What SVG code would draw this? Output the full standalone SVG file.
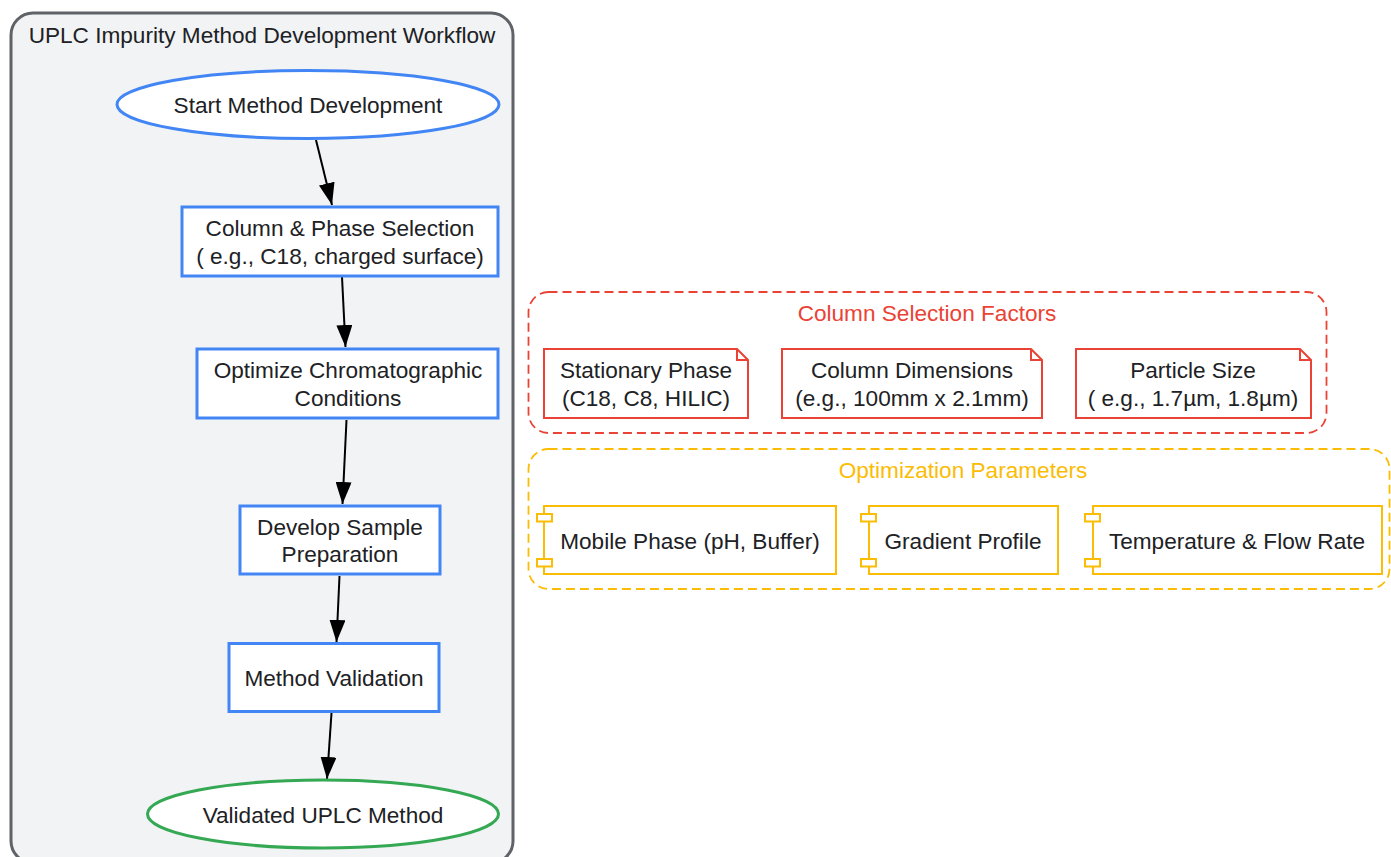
<svg xmlns="http://www.w3.org/2000/svg" width="1391" height="857" viewBox="0 0 1391 857">
<style>
  text { font-family: "Liberation Sans", Arial, sans-serif; font-size: 22.6px; fill: #202124; text-anchor: middle; dominant-baseline: central; }
  .step { fill: #ffffff; stroke: #4285f4; stroke-width: 3; }
  .note { fill: #ffffff; stroke: #ea4335; stroke-width: 2; }
  .comp { fill: #ffffff; stroke: #fbbc04; stroke-width: 2; }
  .cluster { fill: none; stroke-width: 1.8; stroke-dasharray: 9,5; }
  .edge { stroke: #000000; stroke-width: 2; fill: none; marker-end: url(#arrowh); }
</style>
<defs>
  <marker id="arrowh" markerUnits="userSpaceOnUse" markerWidth="24" markerHeight="16" refX="22" refY="8" orient="auto" viewBox="0 0 24 16">
    <path d="M0,0 L22,8 L0,16 Z" fill="#000"/>
  </marker>
</defs>

<g id="workflow-cluster">
  <rect x="11" y="13" width="502" height="850" rx="22" ry="22" fill="#f1f3f4" stroke="#5f6368" stroke-width="3"/>
  <text x="262" y="35">UPLC Impurity Method Development Workflow</text>
</g>

<g id="column-factors-cluster">
  <rect class="cluster" x="528.5" y="292" width="798" height="141" rx="20" ry="20" stroke="#ea4335"/>
  <text x="927" y="313" style="fill:#ea4335">Column Selection Factors</text>
</g>

<g id="optimization-cluster">
  <rect class="cluster" x="528.5" y="449" width="861" height="140" rx="20" ry="20" stroke="#fbbc04"/>
  <text x="963" y="470" style="fill:#fbbc04">Optimization Parameters</text>
</g>

<g id="connectors">
  <line class="edge" x1="316" y1="140" x2="332" y2="205"/>
  <line class="edge" x1="342" y1="277" x2="345.5" y2="347"/>
  <line class="edge" x1="346.5" y1="420" x2="342.5" y2="504"/>
  <line class="edge" x1="339.5" y1="576" x2="336.5" y2="642"/>
  <line class="edge" x1="331.5" y1="713" x2="327" y2="779"/>
</g>

<g id="start">
  <ellipse cx="308" cy="104.5" rx="191" ry="34" fill="#ffffff" stroke="#4285f4" stroke-width="3"/>
  <text x="308" y="105">Start Method Development</text>
</g>

<g id="column-selection">
  <rect class="step" x="182" y="207" width="316" height="69"/>
  <text x="340" y="228">Column &amp; Phase Selection</text>
  <text x="340" y="256">( e.g., C18, charged surface)</text>
</g>

<g id="optimize-conditions">
  <rect class="step" x="197" y="349" width="301" height="69"/>
  <text x="348" y="370">Optimize Chromatographic</text>
  <text x="348" y="398">Conditions</text>
</g>

<g id="sample-prep">
  <rect class="step" x="240" y="506" width="200" height="68"/>
  <text x="340" y="527">Develop Sample</text>
  <text x="340" y="554">Preparation</text>
</g>

<g id="method-validation">
  <rect class="step" x="229" y="643.5" width="210" height="68"/>
  <text x="334" y="678">Method Validation</text>
</g>

<g id="validated-method">
  <ellipse cx="323" cy="814" rx="175.5" ry="34" fill="#ffffff" stroke="#34a853" stroke-width="3"/>
  <text x="323" y="815">Validated UPLC Method</text>
</g>

<g id="stationary-phase">
  <path class="note" d="M544,349 H737 L748,360 V418 H544 Z M737,349 V360 H748"/>
  <text x="646" y="370">Stationary Phase</text>
  <text x="646" y="398">(C18, C8, HILIC)</text>
</g>

<g id="column-dimensions">
  <path class="note" d="M782,349 H1031 L1042,360 V418 H782 Z M1031,349 V360 H1042"/>
  <text x="912" y="370">Column Dimensions</text>
  <text x="912" y="398">(e.g., 100mm x 2.1mm)</text>
</g>

<g id="particle-size">
  <path class="note" d="M1076,349 H1300 L1311,360 V418 H1076 Z M1300,349 V360 H1311"/>
  <text x="1193" y="370">Particle Size</text>
  <text x="1193" y="398">( e.g., 1.7µm, 1.8µm)</text>
</g>

<g id="mobile-phase">
  <rect class="comp" x="544" y="506" width="292" height="68"/>
  <rect class="comp" x="537" y="514" width="15" height="7.5"/>
  <rect class="comp" x="537" y="559" width="15" height="7.5"/>
  <text x="690" y="541">Mobile Phase (pH, Buffer)</text>
</g>

<g id="gradient-profile">
  <rect class="comp" x="869" y="506" width="189" height="68"/>
  <rect class="comp" x="861" y="514" width="15" height="7.5"/>
  <rect class="comp" x="861" y="559" width="15" height="7.5"/>
  <text x="963" y="541">Gradient Profile</text>
</g>

<g id="temperature-flow">
  <rect class="comp" x="1093" y="506" width="289" height="68"/>
  <rect class="comp" x="1085" y="514" width="15" height="7.5"/>
  <rect class="comp" x="1085" y="559" width="15" height="7.5"/>
  <text x="1237" y="541">Temperature &amp; Flow Rate</text>
</g>
</svg>
